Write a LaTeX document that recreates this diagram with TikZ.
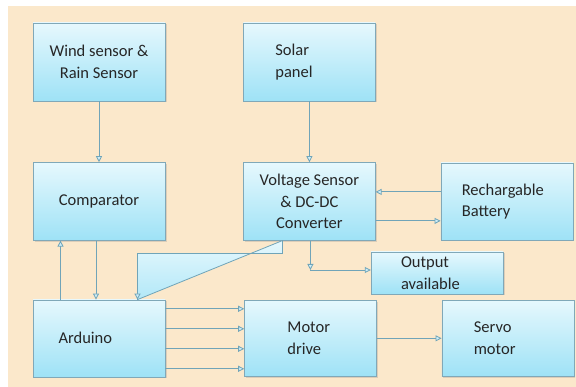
\documentclass[tikz,border=0pt]{standalone}
\usepackage{fontspec}
\setmainfont{Carlito}
\usepackage{tikz}
\usetikzlibrary{arrows.meta, positioning, shadows}
\definecolor{bgbeige}{RGB}{251, 232, 203}
\definecolor{boxtop}{RGB}{230, 248, 253}
\definecolor{boxbot}{RGB}{158, 226, 246}
\definecolor{boxedge}{RGB}{128, 168, 184}
\definecolor{arrowline}{RGB}{112, 164, 184}
\definecolor{arrowfill}{RGB}{205, 238, 248}
\definecolor{textgray}{RGB}{38, 38, 38}
\tikzset{
  block/.style={rectangle, draw=boxedge, top color=boxtop, bottom color=boxbot,
              minimum height=78pt, minimum width=132pt, inner sep=0pt, align=center,
              text=textgray, font=\fontsize{16.5}{21.5}\selectfont,
              drop shadow={opacity=0.25, shadow xshift=1.5pt, shadow yshift=-1.5pt}},
  lblock/.style={block, align=left, inner xsep=#1},
  conn/.style={-{Triangle[length=6pt, width=6pt, fill=arrowfill]}, draw=arrowline, line width=0.8pt},
  bubble/.style={draw=arrowline, line width=0.8pt, top color=boxtop, bottom color=boxbot!80},
}

\begin{document}
\begin{tikzpicture}[x=1pt, y=-1pt, node distance=61pt and 78pt]
    \useasboundingbox (0,0) rectangle (576,387);
    \fill[white] (0,0) rectangle (576,387);
    \fill[bgbeige] (8,6) rectangle (576,387);

    \node[block] (wind) at (99,62) {Wind sensor \&\\ Rain Sensor};
    \node[lblock=32pt, text width=68pt, right=of wind] (solar) {Solar\\ panel};
    \node[block, below=of wind] (comp) {Comparator};
    \node[block, below=of solar] (volt) {Voltage Sensor\\ \& DC-DC\\ Converter};
    \node[lblock=20pt, text width=90pt, minimum height=77pt, right=65pt of volt] (batt) {Rechargable\\ Battery};
    \node[lblock=29pt, text width=72pt, minimum height=42pt] (out) at (437,273) {Output\\ available};
    \node[lblock=25pt, text width=81pt, minimum height=77pt, below=59pt of comp] (ard) {Arduino};
    \node[lblock=43pt, text width=46pt, minimum height=76pt, right=79pt of ard] (motor) {Motor\\ drive};
    \node[lblock=31pt, text width=68pt, minimum height=76pt, right=65pt of motor] (servo) {Servo\\ motor};

    % sensors and supply
    \draw[conn] (wind) -- (comp);
    \draw[conn] (solar) -- (volt);
    \draw[conn] ([yshift=9.5pt]batt.west) -- ([yshift=9.5pt]batt.west -| volt.east);
    \draw[conn] ([yshift=-19.5pt]volt.east) -- ([yshift=-19.5pt]volt.east -| batt.west);

    % comparator <-> arduino
    \draw[conn] ([xshift=-38.5pt]ard.north) -- ([xshift=-38.5pt]ard.north |- comp.south);
    \draw[conn] ([xshift=-3pt]comp.south) -- ([xshift=-3pt]comp.south |- ard.north);

    % output branch
    \coordinate (vout) at ([xshift=1pt]volt.south |- out.west);
    \draw[conn] (volt.south -| vout) -- ([yshift=3pt]vout);
    \draw[conn] ([yshift=3pt]vout) -- ([yshift=3pt]out.west);

    % voltage sensor to arduino
    \coordinate (tapL) at ([xshift=-27pt]volt.south);
    \coordinate (tip) at ([xshift=38.5pt]ard.north);
    \path (tapL) ++(0,13) coordinate (tapC);
    \draw[bubble] (tapL) -- (tapC) -- (tip |- tapC) -- (tip) -- cycle;
    \draw[conn] (tip |- tapC) -- (tip);

    % arduino to motor drive
    \foreach \dy in {29.5, 9.5, -10.5, -30.5}
      \draw[conn] ([yshift=\dy pt]ard.east) -- ([yshift=\dy pt]ard.east -| motor.west);
    \draw[conn] (motor) -- (servo);
  \end{tikzpicture}
\end{document}
